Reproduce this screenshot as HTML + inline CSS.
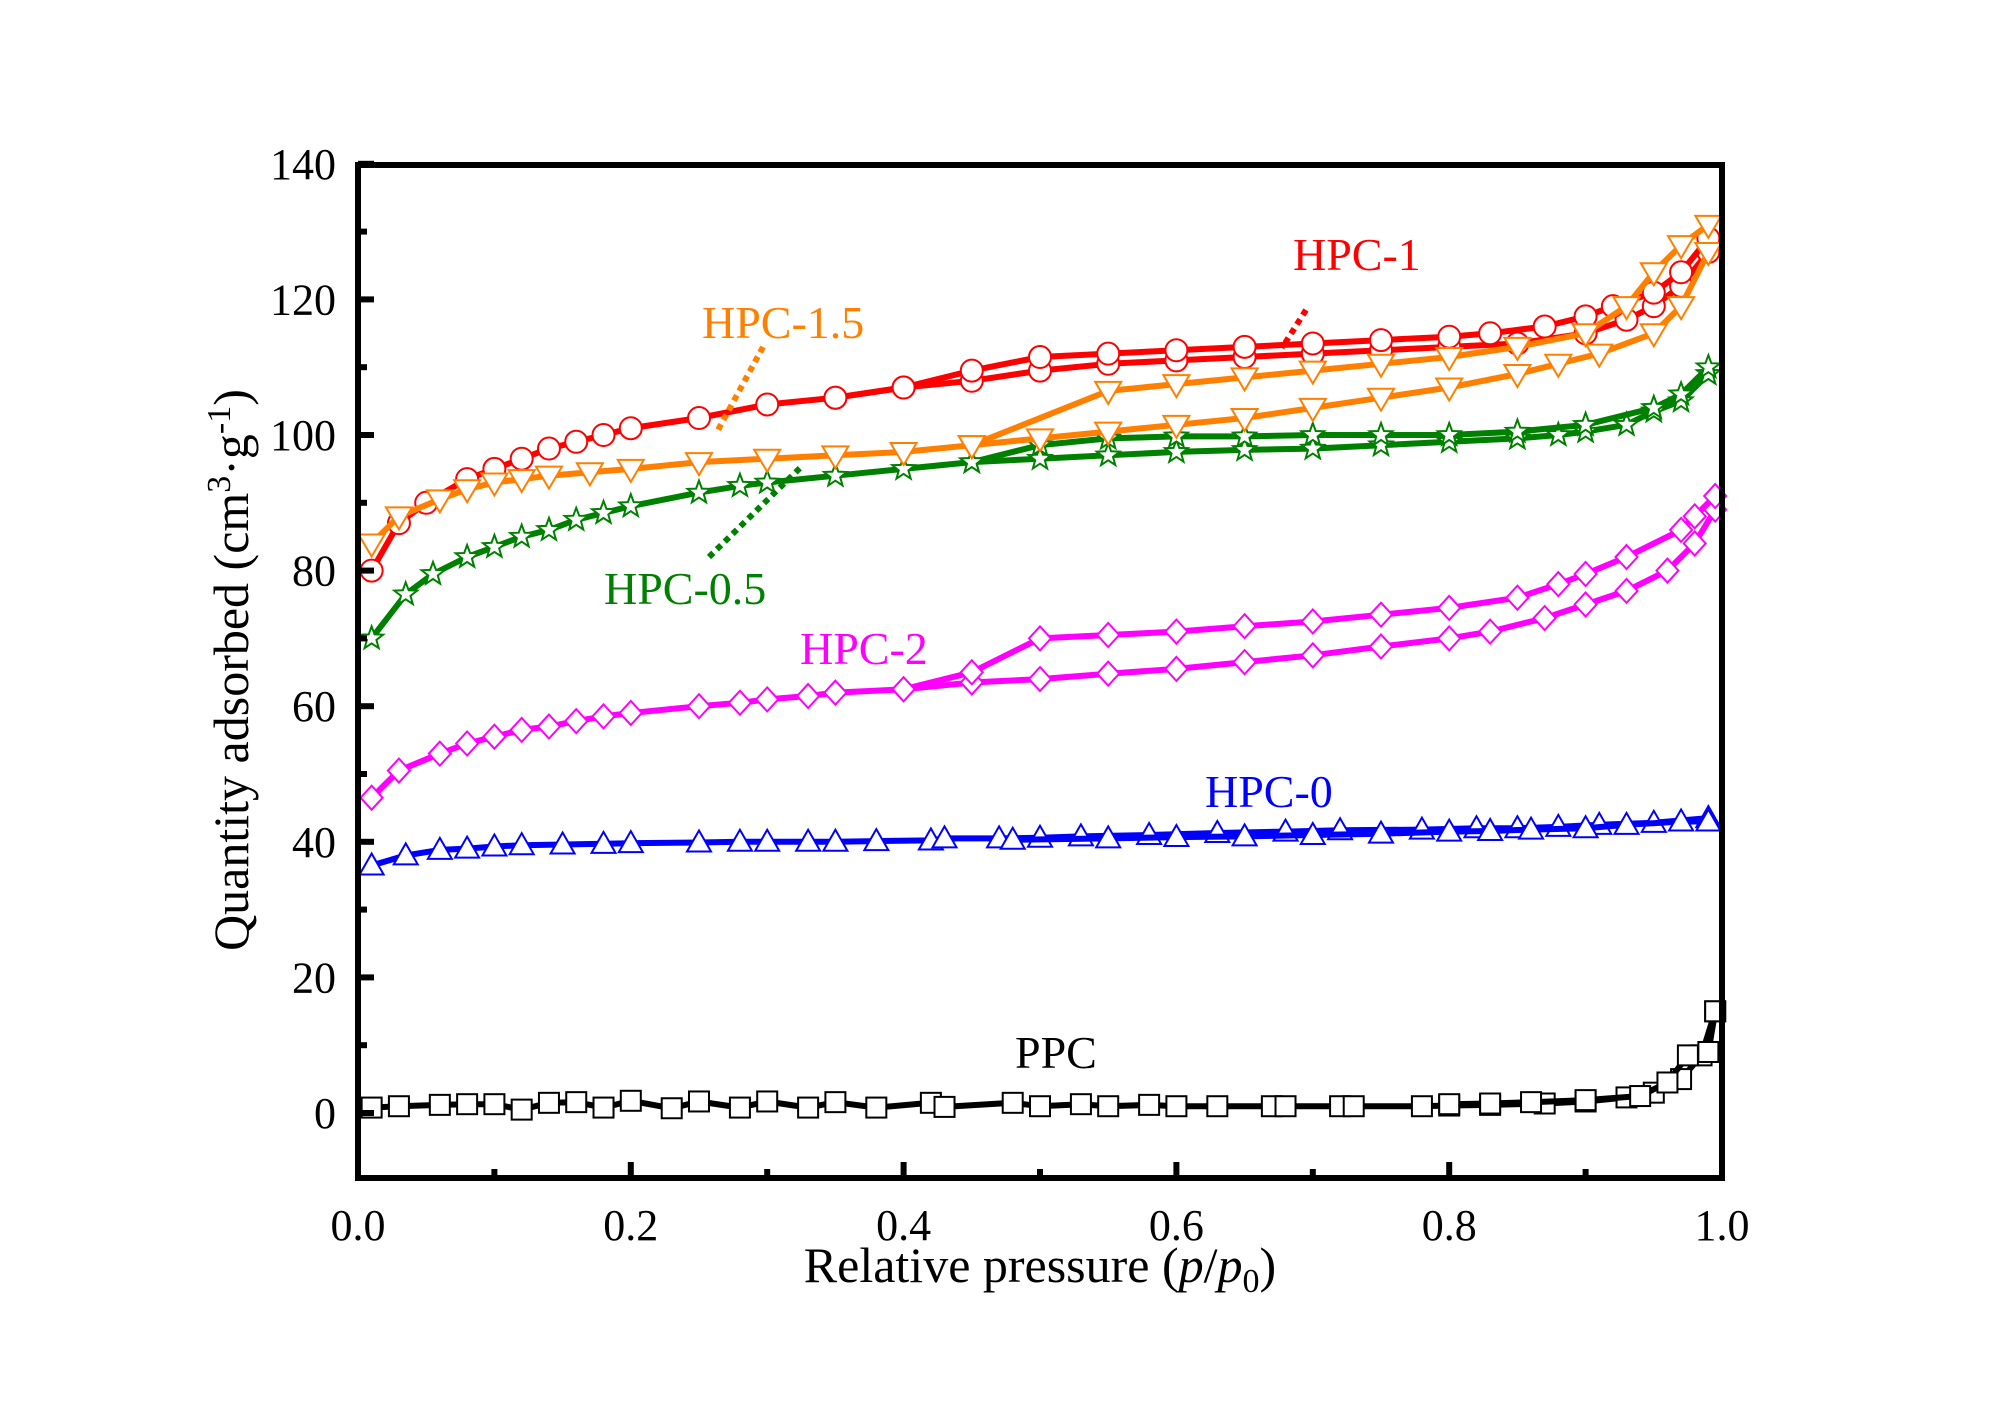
<!DOCTYPE html>
<html><head><meta charset="utf-8"><style>
html,body{margin:0;padding:0;background:#fff}
svg{display:block}
text{font-family:"Liberation Serif","Times New Roman",serif}
</style></head><body>
<svg id="chart" width="2000" height="1414" viewBox="0 0 2000 1414">
<g id="plot"></g>
</svg>
<script>
const xTicks=[0,0.2,0.4,0.6,0.8,1.0];
const xTickLabels=["0.0","0.2","0.4","0.6","0.8","1.0"];
const yTicks=[0,20,40,60,80,100,120,140];
const yTickLabels=["0","20","40","60","80","100","120","140"];

const ppcAdsX=[0.01,0.03,0.06,0.08,0.1,0.12,0.14,0.16,0.18,0.2,0.23,0.25,0.28,0.3,0.33,0.35,0.38,0.42,0.43,0.48,0.5,0.53,0.55,0.58,0.6,0.63,0.67,0.68,0.72,0.73,0.78,0.8,0.83,0.87,0.9,0.93,0.95,0.97,0.985,0.995];
const ppcAdsY=[0.8,1.0,1.2,1.3,1.3,0.5,1.5,1.6,0.8,1.8,0.7,1.7,0.8,1.7,0.8,1.6,0.8,1.5,0.9,1.5,1.0,1.3,1.0,1.2,1.0,1.0,1.0,1.0,1.0,1.0,1.0,1.1,1.2,1.4,1.7,2.3,3.0,5.0,8.5,15];
const ppcDesX=[0.995,0.99,0.975,0.96,0.94,0.9,0.86,0.83,0.8];
const ppcDesY=[15,9,8.5,4.5,2.5,1.9,1.6,1.4,1.3];

const hpc0AdsX=[0.01,0.035,0.06,0.08,0.1,0.12,0.15,0.18,0.2,0.25,0.28,0.3,0.33,0.35,0.38,0.42,0.43,0.47,0.5,0.53,0.58,0.63,0.68,0.72,0.78,0.82,0.85,0.88,0.91,0.95,0.99];
const hpc0AdsY=[36.5,38,38.8,39,39.3,39.5,39.6,39.7,39.8,39.9,40,40,40,40,40.1,40.2,40.5,40.5,40.6,40.8,41,41.3,41.5,41.7,41.8,42,42,42.2,42.5,42.8,43.5];
const hpc0DesX=[0.99,0.97,0.93,0.9,0.86,0.83,0.8,0.75,0.7,0.65,0.6,0.55,0.48];
const hpc0DesY=[43,43,42.5,42,41.8,41.6,41.5,41.2,41,40.8,40.7,40.5,40.3];

const hpc2AdsX=[0.01,0.03,0.06,0.08,0.1,0.12,0.14,0.16,0.18,0.2,0.25,0.28,0.3,0.33,0.35,0.4,0.45,0.5,0.55,0.6,0.65,0.7,0.75,0.8,0.83,0.87,0.9,0.93,0.96,0.98,0.995];
const hpc2AdsY=[46.5,50.5,53,54.5,55.5,56.5,57,57.8,58.5,59,60,60.5,61,61.5,62,62.5,63.5,64,64.8,65.5,66.5,67.5,68.8,70,71,73,75,77,80,84,89];
const hpc2DesX=[0.995,0.98,0.97,0.93,0.9,0.88,0.85,0.8,0.75,0.7,0.65,0.6,0.55,0.5,0.45,0.4];
const hpc2DesY=[91,88,86,82,79.5,78,76,74.5,73.5,72.5,71.8,71,70.5,70,65,62.5];

const hpc05AdsX=[0.01,0.035,0.055,0.08,0.1,0.12,0.14,0.16,0.18,0.2,0.25,0.28,0.3,0.35,0.4,0.45,0.5,0.55,0.6,0.65,0.7,0.75,0.8,0.85,0.88,0.9,0.93,0.95,0.97,0.99];
const hpc05AdsY=[70,76.5,79.5,82,83.5,85,86,87.5,88.5,89.5,91.5,92.5,93,94,95,96,96.5,97,97.5,97.8,98,98.5,99,99.5,100,100.5,101.5,103.5,105,109];
const hpc05DesX=[0.99,0.97,0.95,0.9,0.85,0.8,0.75,0.7,0.65,0.6,0.55,0.5,0.45];
const hpc05DesY=[110,106,104,101.5,100.5,100,100,100,99.8,99.8,99.5,98.5,96];

const hpc15AdsX=[0.01,0.03,0.06,0.08,0.1,0.12,0.14,0.17,0.2,0.25,0.3,0.35,0.4,0.45,0.5,0.55,0.6,0.65,0.7,0.75,0.8,0.85,0.88,0.91,0.95,0.97,0.99];
const hpc15AdsY=[84,88,90.5,92,93,93.5,94,94.5,95,96,96.5,97,97.5,98.5,99.5,100.5,101.5,102.5,104,105.5,107,109,110.5,112,115,119,127];
const hpc15DesX=[0.99,0.97,0.95,0.93,0.9,0.85,0.8,0.75,0.7,0.65,0.6,0.55,0.45];
const hpc15DesY=[131,128,124,119,115,113,111.5,110.5,109.5,108.5,107.5,106.5,98.5];

const hpc1AdsX=[0.01,0.03,0.05,0.08,0.1,0.12,0.14,0.16,0.18,0.2,0.25,0.3,0.35,0.4,0.45,0.5,0.55,0.6,0.65,0.7,0.75,0.8,0.85,0.9,0.93,0.95,0.97,0.99];
const hpc1AdsY=[80,87,90,93.5,95,96.5,98,99,100,101,102.5,104.5,105.5,107,108,109.5,110.5,111,111.5,112,112.5,113,113.5,115,117,119,122,127];
const hpc1DesX=[0.99,0.97,0.95,0.92,0.9,0.87,0.83,0.8,0.75,0.7,0.65,0.6,0.55,0.5,0.45,0.4,0.35];
const hpc1DesY=[129,124,121,119,117.5,116,115,114.5,114,113.5,113,112.5,112,111.5,109.5,107,105.5];

const X0=358,X1=1722,YT=165,YB=1178;
function sx(v){return X0+(X1-X0)*v;}
function sy(v){return 1113-6.78*v;}
const NS="http://www.w3.org/2000/svg";
const svg=document.getElementById('chart');
const plot=document.getElementById('plot');
function mk(tag,attrs,parent){const e=document.createElementNS(NS,tag);for(const k in attrs)e.setAttribute(k,attrs[k]);(parent||svg).appendChild(e);return e;}

function series(name,color,xs,ys,marker){
  const g=mk('g',{},plot);
  
  
  const pts=xs.map((x,i)=>sx(x).toFixed(1)+','+sy(ys[i]).toFixed(1)).join(' ');
  const line=mk('polyline',{points:pts,fill:'none',stroke:color,'stroke-width':6,'stroke-linejoin':'round'},g);
  
  
  xs.forEach((x,i)=>{
    const cx=sx(x),cy=sy(ys[i]);let m;
    const st={fill:'#fff',stroke:color,'stroke-width':2};
    if(marker==='circle'){m=mk('circle',Object.assign({cx:cx,cy:cy,r:11},st),g);}
    else if(marker==='square'){m=mk('rect',Object.assign({x:cx-10,y:cy-10,width:20,height:20},st),g);}
    else if(marker==='up'){m=mk('polygon',Object.assign({points:`${cx},${cy-12} ${cx-12},${cy+9} ${cx+12},${cy+9}`},st),g);}
    else if(marker==='down'){m=mk('polygon',Object.assign({points:`${cx-13},${cy-9} ${cx+13},${cy-9} ${cx},${cy+13}`},st),g);}
    else if(marker==='diamond'){m=mk('polygon',Object.assign({points:`${cx},${cy-12} ${cx+11},${cy} ${cx},${cy+12} ${cx-11},${cy}`},st),g);}
    else if(marker==='star'){let p=[];for(let k=0;k<10;k++){const r=k%2?5:12;const a=-Math.PI/2+k*Math.PI/5;p.push((cx+r*Math.cos(a)).toFixed(1)+','+(cy+r*Math.sin(a)).toFixed(1));}m=mk('polygon',Object.assign({points:p.join(' ')},st),g);}
    
    
  });
}
series('ppc-adsorption','#000',ppcAdsX,ppcAdsY,'square');
series('ppc-desorption','#000',ppcDesX,ppcDesY,'square');
series('hpc-0-adsorption','#0000ff',hpc0AdsX,hpc0AdsY,'up');
series('hpc-0-desorption','#0000ff',hpc0DesX,hpc0DesY,'up');
series('hpc-2-adsorption','#ff00ff',hpc2AdsX,hpc2AdsY,'diamond');
series('hpc-2-desorption','#ff00ff',hpc2DesX,hpc2DesY,'diamond');
series('hpc-0.5-adsorption','#008000',hpc05AdsX,hpc05AdsY,'star');
series('hpc-0.5-desorption','#008000',hpc05DesX,hpc05DesY,'star');
series('hpc-1-adsorption','#ff0000',hpc1AdsX,hpc1AdsY,'circle');
series('hpc-1-desorption','#ff0000',hpc1DesX,hpc1DesY,'circle');
series('hpc-1.5-adsorption','#ff8000',hpc15AdsX,hpc15AdsY,'down');
series('hpc-1.5-desorption','#ff8000',hpc15DesX,hpc15DesY,'down');

// axes frame
const frame=mk('rect',{x:X0,y:YT,width:X1-X0,height:YB-YT,fill:'none',stroke:'#000','stroke-width':6});


// ticks
yTicks.forEach((v,i)=>{
  const t=mk('line',{x1:X0,x2:X0+16,y1:sy(v),y2:sy(v),stroke:'#000','stroke-width':6});
  
  
  const l=mk('text',{x:X0-22,y:sy(v)+15,'text-anchor':'end','font-size':44});
  l.textContent=yTickLabels[i];
  
  
  if(v<140){const m=mk('line',{x1:X0,x2:X0+9,y1:sy(v+10),y2:sy(v+10),stroke:'#000','stroke-width':6});
  
  }
});
const mm=mk('line',{x1:X0,x2:X0+9,y1:sy(-10)+0,y2:sy(-10),stroke:'#000','stroke-width':0});
xTicks.forEach((v,i)=>{
  const t=mk('line',{x1:sx(v),x2:sx(v),y1:YB,y2:YB-16,stroke:'#000','stroke-width':6});
  
  
  const l=mk('text',{x:sx(v),y:1240,'text-anchor':'middle','font-size':44});
  l.textContent=xTickLabels[i];
  
  
  if(v<1){const m=mk('line',{x1:sx(v+0.1),x2:sx(v+0.1),y1:YB,y2:YB-9,stroke:'#000','stroke-width':6});
  
  }
});
</script>
<svg style="position:absolute;left:0;top:0" width="2000" height="1414">
<text x="1040" y="1282" text-anchor="middle" font-size="50">Relative pressure (<tspan font-style="italic">p</tspan>/<tspan font-style="italic">p</tspan><tspan font-size="34" dy="10">0</tspan><tspan dy="-10">)</tspan></text>
<text transform="translate(248,670) rotate(-90)" text-anchor="middle" font-size="50">Quantity adsorbed (cm<tspan font-size="34" dy="-18">3</tspan><tspan dy="18">·g</tspan><tspan font-size="34" dy="-18">-1</tspan><tspan dy="18">)</tspan></text>
<text x="1293" y="270" font-size="46" fill="#ff0000">HPC-1</text>
<line x1="1306" y1="310" x2="1282" y2="348" stroke="#ff0000" stroke-width="6" stroke-dasharray="6,5"/>
<text x="702" y="338" font-size="46" fill="#ff8000">HPC-1.5</text>
<line x1="763" y1="347" x2="718" y2="430" stroke="#ff8000" stroke-width="6" stroke-dasharray="6,5"/>
<text x="604" y="604" font-size="46" fill="#008000">HPC-0.5</text>
<line x1="709" y1="557" x2="801" y2="467" stroke="#008000" stroke-width="6" stroke-dasharray="6,5"/>
<text x="800" y="664" font-size="46" fill="#ff00ff">HPC-2</text>
<text x="1205" y="807" font-size="46" fill="#0000ff">HPC-0</text>
<text x="1015" y="1068" font-size="46" fill="#000">PPC</text>
</svg>
</body></html>
